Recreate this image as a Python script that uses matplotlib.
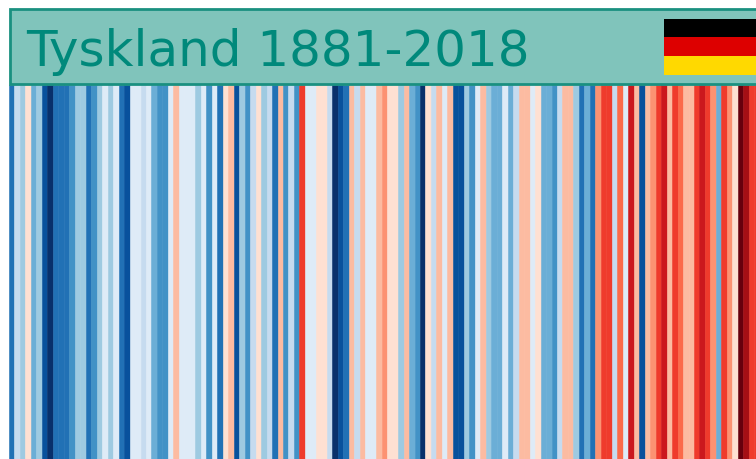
import matplotlib
matplotlib.use("Agg")
import matplotlib.pyplot as plt
from matplotlib.patches import Rectangle

title = "Tyskland 1881-2018"
first_year = 1881

# warming stripes palette, coldest to warmest
palette = ["#08306b", "#08519c", "#2171b5", "#4292c6", "#6baed6", "#9ecae1", "#c6dbef", "#deebf7",
           "#fee0d2", "#fcbba1", "#fc9272", "#fb6a4a", "#ef3b2c", "#cb181d", "#a50f15", "#67000d"]

# one palette level per year
levels = [2, 6, 5, 8, 4, 5, 1, 0, 2, 2, 2, 3, 5, 5, 2, 3, 5, 7, 5, 7,
          2, 1, 7, 7, 6, 7, 4, 3, 3, 7, 9, 7, 7, 7, 5, 7, 3, 7, 2, 8,
          9, 1, 5, 3, 6, 8, 5, 6, 2, 9, 3, 6, 3, 12, 7, 7, 8, 8, 6, 0,
          1, 2, 9, 6, 9, 7, 7, 9, 10, 8, 8, 5, 9, 4, 3, 0, 8, 6, 9, 7,
          9, 1, 1, 5, 3, 7, 9, 5, 4, 4, 7, 4, 6, 9, 9, 7, 8, 4, 4, 3,
          6, 9, 9, 5, 2, 4, 2, 10, 12, 12, 6, 11, 7, 13, 9, 1, 9, 10, 12, 13,
          9, 12, 11, 9, 9, 12, 13, 12, 10, 4, 12, 10, 8, 15, 14, 12, 12]

flag_colors = ["#000000", "#dd0000", "#ffd900"]

W, H = 756, 459
years = [first_year + i for i in range(len(levels))]

fig = plt.figure(figsize=(W / 100, H / 100), dpi=100, facecolor="white")

# stripes, edge in the same colour so no white seams show between bars
ax = fig.add_axes([9 / W, 0, (W - 9) / W, (H - 85) / H])
stripe_colors = [palette[l] for l in levels]
ax.bar(years, [1] * len(years), width=1.0, align="edge", color=stripe_colors, edgecolor=stripe_colors, linewidth=0.4)
ax.set_xlim(first_year, first_year + (W - 9) / 5.48)
ax.set_ylim(0, 1)
ax.axis("off")

# header band
head = fig.add_axes([0, 0, 1, 1])
head.set_xlim(0, W)
head.set_ylim(H, 0)
head.axis("off")
head.patch.set_alpha(0)
head.add_patch(Rectangle((10, 9), W, 75, facecolor="#80c4bb", edgecolor="#1a9080", linewidth=2.0))
head.text(26, 65.5, title, fontsize=36, family="DejaVu Sans", color="#00897b", ha="left", va="baseline")

for i, c in enumerate(flag_colors):
    head.add_patch(Rectangle((663.5, 18.5 + i * 18.7), W - 663.5, 18.7, facecolor=c, linewidth=0))

fig.savefig("out.png", dpi=100)
